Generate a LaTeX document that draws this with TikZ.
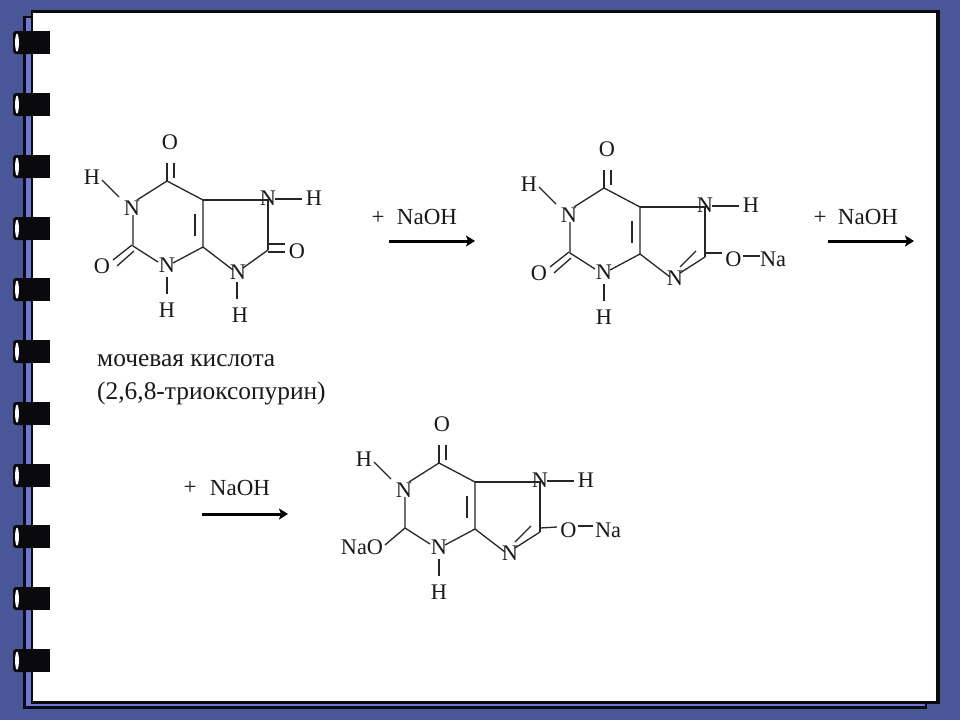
\documentclass[tikz,border=0pt]{standalone}
\usepackage{fontspec}
\setmainfont{Liberation Serif}
\usetikzlibrary{arrows.meta}
\definecolor{slateblue}{RGB}{73,87,153}
\definecolor{periw}{RGB}{107,120,214}
\definecolor{inkblack}{RGB}{10,10,12}
\tikzset{
  atom/.style={inner sep=0pt,font=\fontsize{22.3}{25}\selectfont,text=black!90},
  reagent/.style={inner sep=0pt,font=\fontsize{23}{25}\selectfont,text=black!90},
  bond/.style={draw=black!85,line width=1.3pt},
  caption/.style={inner sep=0pt,anchor=base west,font=\fontsize{25.4}{28}\selectfont,text=black!90},
  rxn/.style={draw=black,line width=3pt,-{Stealth[length=9pt,width=11pt,inset=2pt]}},
  ringblock/.style={fill=inkblack,rounded corners=3pt},
}
\newcommand{\ringat}[1]{%
  \fill[ringblock] (13,#1) rectangle (36,#1+23);
  \fill[inkblack] (25,#1) rectangle (50,#1+23);
  \fill[white] (17,#1+11.7) ellipse (1.9 and 9);
}
% common purine core, local coordinates of the first molecule
\newcommand{\purinecore}{%
  \coordinate (c6) at (167,181);
  \coordinate (c5) at (203,200);
  \coordinate (c4) at (203,247);
  \coordinate (c2) at (133,246);
  \coordinate (n1end) at (133,215);
  \coordinate (n1top) at (137,200);
  \coordinate (n3r) at (173,263);
  \coordinate (n3l) at (158,262);
  \coordinate (n7end) at (268,200);
  \coordinate (c8) at (268,250);
  \coordinate (dbA) at (195,214);
  \coordinate (dbB) at (195,236);
  \coordinate (h1a) at (102,180);
  \coordinate (h1b) at (119,197);
  \coordinate (h7a) at (275,199);
  \coordinate (h7b) at (302,199);
  \coordinate (h3a) at (167,277);
  \coordinate (h3b) at (167,294);
  \coordinate (oa1) at (167,163);
  \coordinate (ob1) at (174,163);
  \coordinate (ob2) at (174,178);
  \node[atom] (n1) at (132,208) {N};
  \node[atom] (n3) at (167,265) {N};
  \node[atom] (n7) at (268,198) {N};
  \node[atom] (o6) at (170,142) {O};
  \node[atom] (h1) at (92,177) {H};
  \node[atom] (h7) at (314,198) {H};
  \node[atom] (h3) at (167,310) {H};
  \draw[bond] (n1top) -- (c6) -- (c5) -- (c4) -- (n3r);
  \draw[bond] (n3l) -- (c2) -- (n1end);
  \draw[bond] (c5) -- (n7end) -- (c8);
  \draw[bond] (dbA) -- (dbB);
  \draw[bond] (h1a) -- (h1b);
  \draw[bond] (h7a) -- (h7b);
  \draw[bond] (h3a) -- (h3b);
  \draw[bond] (oa1) -- (c6);
  \draw[bond] (ob1) -- (ob2);
}
% enolate five-ring part: C8(-ONa)=N9
\newcommand{\enolate}[6]{%
  \coordinate (n9a) at (233,270);
  \coordinate (n9b) at (243,266);
  \coordinate (dc1) at (259,244);
  \coordinate (dc2) at (243,260);
  \coordinate (oe) at (285,#1);
  \coordinate (c8e) at (268,#2);
  \coordinate (ona) at (#3,#4);
  \coordinate (onb) at (#5,#4);
  \node[atom] (n9) at (238,271) {N};
  \node[atom] (o8) at (296.5,#6) {O};
  \node[atom] (na8) at (336,#6) {Na};
  \draw[bond] (c4) -- (n9a);
  \draw[bond] (c8) -- (n9b);
  \draw[bond] (dc1) -- (dc2);
  \draw[bond] (c8e) -- (oe);
  \draw[bond] (ona) -- (onb);
}
\begin{document}
\begin{tikzpicture}[x=1pt,y=-1pt]
\useasboundingbox (0,0) rectangle (960,720);
\fill[slateblue] (0,0) rectangle (960,720);
% back sheet
\fill[inkblack] (23,16) rectangle (927,709);
\fill[periw] (26,18) rectangle (31,706);
\fill[periw] (26,703.5) rectangle (925,706);
% front sheet
\fill[inkblack] (31,10) rectangle (940,703.5);
\fill[white] (33,13) rectangle (936,700.5);
% binder rings
\foreach \ry in {31,93,155,217,278,340,402,464,525,587,649} {\ringat{\ry}}

% uric acid
\begin{scope}[name prefix=a-]
  \purinecore
  \coordinate (n9a) at (233,270);
  \coordinate (n9b) at (243,268);
  \coordinate (n9h1) at (237,282);
  \coordinate (n9h2) at (237,299);
  \coordinate (o2a1) at (113,260);
  \coordinate (o2a2) at (132,245);
  \coordinate (o2b1) at (117,266);
  \coordinate (o2b2) at (134,251);
  \coordinate (o8a1) at (268,244);
  \coordinate (o8a2) at (285,244);
  \coordinate (o8b1) at (268,252);
  \coordinate (o8b2) at (285,252);
  \node[atom] (n9) at (238,272) {N};
  \node[atom] (h9) at (240,315) {H};
  \node[atom] (o8) at (297,251) {O};
  \node[atom] (o2) at (102,266) {O};
  \draw[bond] (c4) -- (n9a);
  \draw[bond] (c8) -- (n9b);
  \draw[bond] (n9h1) -- (n9h2);
  \draw[bond] (o2a1) -- (o2a2);
  \draw[bond] (o2b1) -- (o2b2);
  \draw[bond] (o8a1) -- (o8a2);
  \draw[bond] (o8b1) -- (o8b2);
\end{scope}

% monosodium salt
\begin{scope}[shift={(437,7)},name prefix=b-]
  \purinecore
  \enolate{246}{246}{306}{249}{323}{252}
  \coordinate (o2a1) at (113,260);
  \coordinate (o2a2) at (132,245);
  \coordinate (o2b1) at (117,266);
  \coordinate (o2b2) at (134,251);
  \node[atom] (o2) at (102,266) {O};
  \draw[bond] (o2a1) -- (o2a2);
  \draw[bond] (o2b1) -- (o2b2);
\end{scope}

% disodium salt
\begin{scope}[shift={(272,282)},name prefix=c-]
  \purinecore
  \enolate{245}{246}{306}{244}{321}{248}
  \coordinate (oc) at (113,263);
  \node[atom] (nao) at (90,265) {NaO};
  \draw[bond] (c2) -- (oc);
\end{scope}

% captions
\node[caption] (cap1) at (97,366) {мочевая кислота};
\node[caption] (cap2) at (97,399) {(2,6,8-триоксопурин)};

% reagents
\node[reagent] (p1) at (378,218) {+};
\node[reagent] (r1) at (427,217) {NaOH};
\coordinate (r1s) at (389,241);
\coordinate (r1e) at (475,241);
\draw[rxn] (r1s) -- (r1e);

\node[reagent] (p2) at (820,218) {+};
\node[reagent] (r2) at (868,217) {NaOH};
\coordinate (r2s) at (828,241);
\coordinate (r2e) at (914,241);
\draw[rxn] (r2s) -- (r2e);

\node[reagent] (p3) at (190,488) {+};
\node[reagent] (r3) at (240,488) {NaOH};
\coordinate (r3s) at (202,514);
\coordinate (r3e) at (288,514);
\draw[rxn] (r3s) -- (r3e);
\end{tikzpicture}
\end{document}
